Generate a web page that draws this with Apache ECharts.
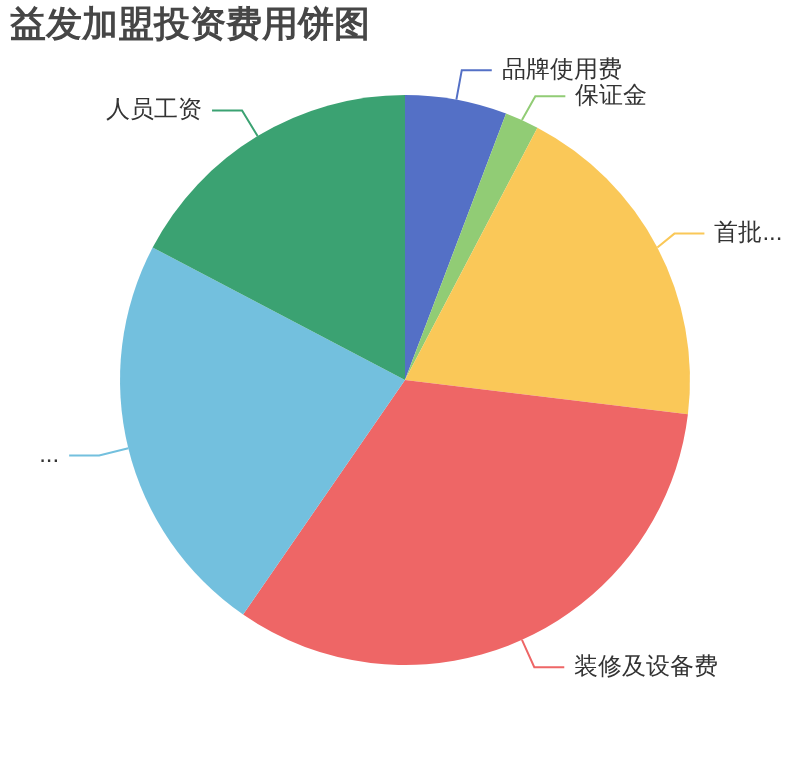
<!DOCTYPE html>
<html>
<head>
<meta charset="utf-8">
<style>
  html, body { margin: 0; padding: 0; background: #fff; }
  #chart { width: 810px; height: 760px; }
</style>
<script src="https://cdn.jsdelivr.net/npm/echarts@6/dist/echarts.min.js"></script>
</head>
<body>
<div id="chart"></div>
<script>
// 投资费用（万元）
var names = ['品牌使用费', '保证金', '首批进货费', '装修及设备费', '店面房租押金', '人员工资'];
var values = [3, 1, 10, 17, 12, 9];
var colors = ['#5470c6', '#91cc75', '#fac858', '#ee6666', '#73c0de', '#3ba272'];

var myChart = echarts.init(document.getElementById('chart'));

var pieData = names.map(function (name, i) {
  return { name: name, value: values[i] };
});

var option = {
  color: colors,
  animation: false,
  title: {
    text: '益发加盟投资费用饼图',
    left: 5,
    top: 3,
    textStyle: {
      fontSize: 36,
      fontWeight: 'bold',
      color: '#464646'
    }
  },
  series: [
    {
      type: 'pie',
      center: ['50%', '50%'],
      radius: '75%',
      startAngle: 90,
      data: pieData,
      itemStyle: { borderWidth: 0 },
      label: {
        fontSize: 24,
        color: '#333',
        distanceToLabelLine: 10,
        bleedMargin: 20
      },
      labelLine: {
        length: 30,
        length2: 30,
        lineStyle: { width: 2 }
      }
    }
  ]
};

myChart.setOption(option);
</script>
</body>
</html>
